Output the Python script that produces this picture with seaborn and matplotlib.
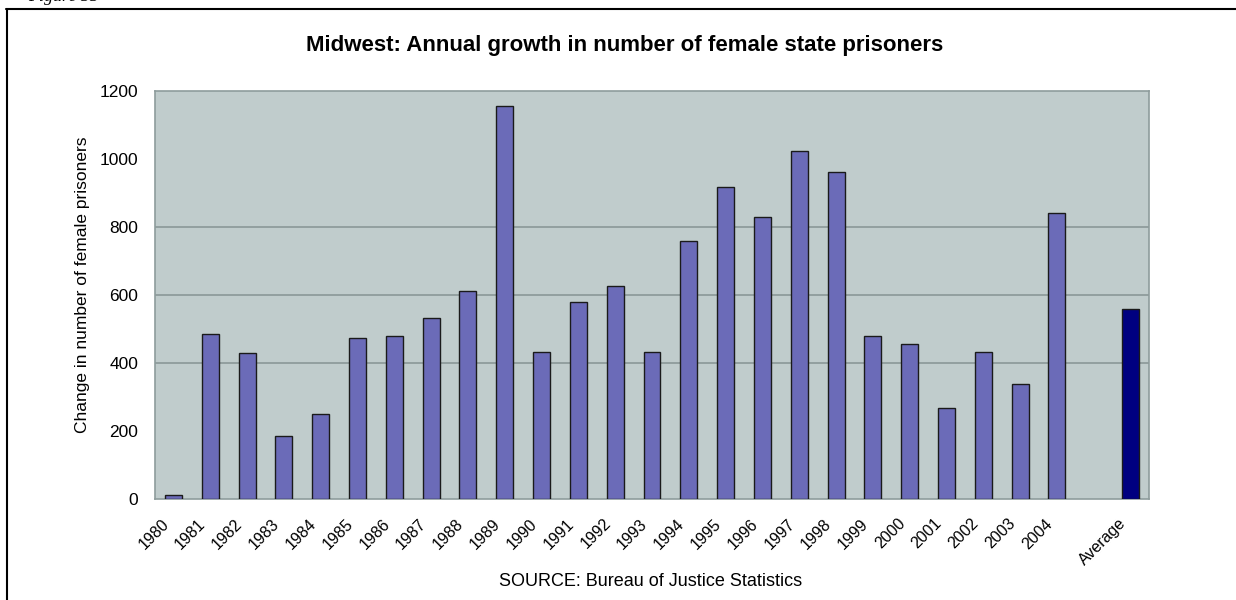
import matplotlib
matplotlib.use("Agg")
import matplotlib.pyplot as plt
from matplotlib.lines import Line2D
from matplotlib.ticker import FixedLocator
from matplotlib.transforms import ScaledTranslation
import seaborn as sns
import numpy as np
import pandas as pd

# ---- data ----
categories = ["1980", "1981", "1982", "1983", "1984", "1985", "1986", "1987", "1988",
              "1989", "1990", "1991", "1992", "1993", "1994", "1995", "1996", "1997",
              "1998", "1999", "2000", "2001", "2002", "2003", "2004", " ", "Average"]
values = [12, 485, 428, 185, 251, 474, 478, 531, 611,
          1156, 432, 580, 626, 432, 758, 917, 829, 1024,
          962, 478, 457, 268, 432, 339, 841, np.nan, 560]
bar_colors = ["#6B6BB8"] * 26 + ["#000080"]
y_ticks = [0, 200, 400, 600, 800, 1000, 1200]
grid_values = [400, 600, 800]

title = "Midwest: Annual growth in number of female state prisoners"
ylabel = "Change in number of female prisoners"
source = "SOURCE: Bureau of Justice Statistics"

sns.set_style("white")
plt.rcParams["font.family"] = ["Liberation Sans", "DejaVu Sans"]
plt.rcParams["text.color"] = "black"
plt.rcParams["xtick.labelcolor"] = "black"
plt.rcParams["ytick.labelcolor"] = "black"

W, H = 1236, 600
fig = plt.figure(figsize=(W / 100, H / 100), dpi=100)
ax = fig.add_axes([155 / W, 1 - 499 / H, (1149 - 155) / W, (499 - 91) / H])

df = pd.DataFrame({"cat": categories, "val": values})
sns.barplot(data=df, x="cat", y="val", hue="cat", palette=bar_colors, order=categories,
            hue_order=categories, legend=False, width=0.46, edgecolor="#1a1a1a",
            linewidth=1.0, saturation=1, ax=ax, zorder=3)

ax.set_facecolor("#C0CCCC")
ax.set_xlim(-0.5, len(categories) - 0.5)
ax.set_ylim(0, 1200)
ax.set_yticks(y_ticks)
ax.tick_params(axis="y", length=0, pad=12, labelsize=12.5, labelcolor="black")
for g in grid_values:
    ax.axhline(g, color="#8A9898", lw=1.2, zorder=1)

for s in ax.spines.values():
    s.set_color("#8E9C9C")
    s.set_linewidth(1.2)

# x ticks: labels at category centres, tick marks at boundaries
ax.set_xticks(range(len(categories)))
ax.set_xticklabels(categories)
ax.xaxis.set_minor_locator(FixedLocator(np.arange(-0.5, len(categories), 1.0)))
ax.tick_params(axis="x", which="major", length=0, pad=16, labelsize=11.5, labelcolor="black")
ax.tick_params(axis="x", which="minor", length=5, color="#8E9C9C", width=1.2)
shift = ScaledTranslation(-7 / 100, 0, fig.dpi_scale_trans)
for lbl in ax.get_xticklabels():
    lbl.set_rotation(45)
    lbl.set_ha("right")
    lbl.set_va("center")
    lbl.set_rotation_mode("anchor")
    lbl.set_transform(lbl.get_transform() + shift)

ax.set_xlabel("")
ax.set_ylabel("")

fig.text(83 / W, 1 - 285 / H, ylabel, rotation=90, ha="center", va="center", fontsize=12.5)
fig.text(625 / W, 1 - 46 / H, title, ha="center", va="center", fontsize=16, fontweight="bold")
fig.text(651 / W, 1 - 582 / H, source, ha="center", va="center", fontsize=13)

# page frame and cut-off caption
fig.add_artist(Line2D([6.5 / W, 6.5 / W], [0, 1 - 9 / H], transform=fig.transFigure, color="black", lw=1.5))
fig.add_artist(Line2D([6 / W, 1], [1 - 9 / H, 1 - 9 / H], transform=fig.transFigure, color="black", lw=1.5))
fig.text(28 / W, 1 - 1 / H, "Figure 33", ha="left", va="baseline", fontsize=13,
         fontstyle="italic", family=["Liberation Serif", "DejaVu Serif"])

fig.savefig("out.png", dpi=100)
